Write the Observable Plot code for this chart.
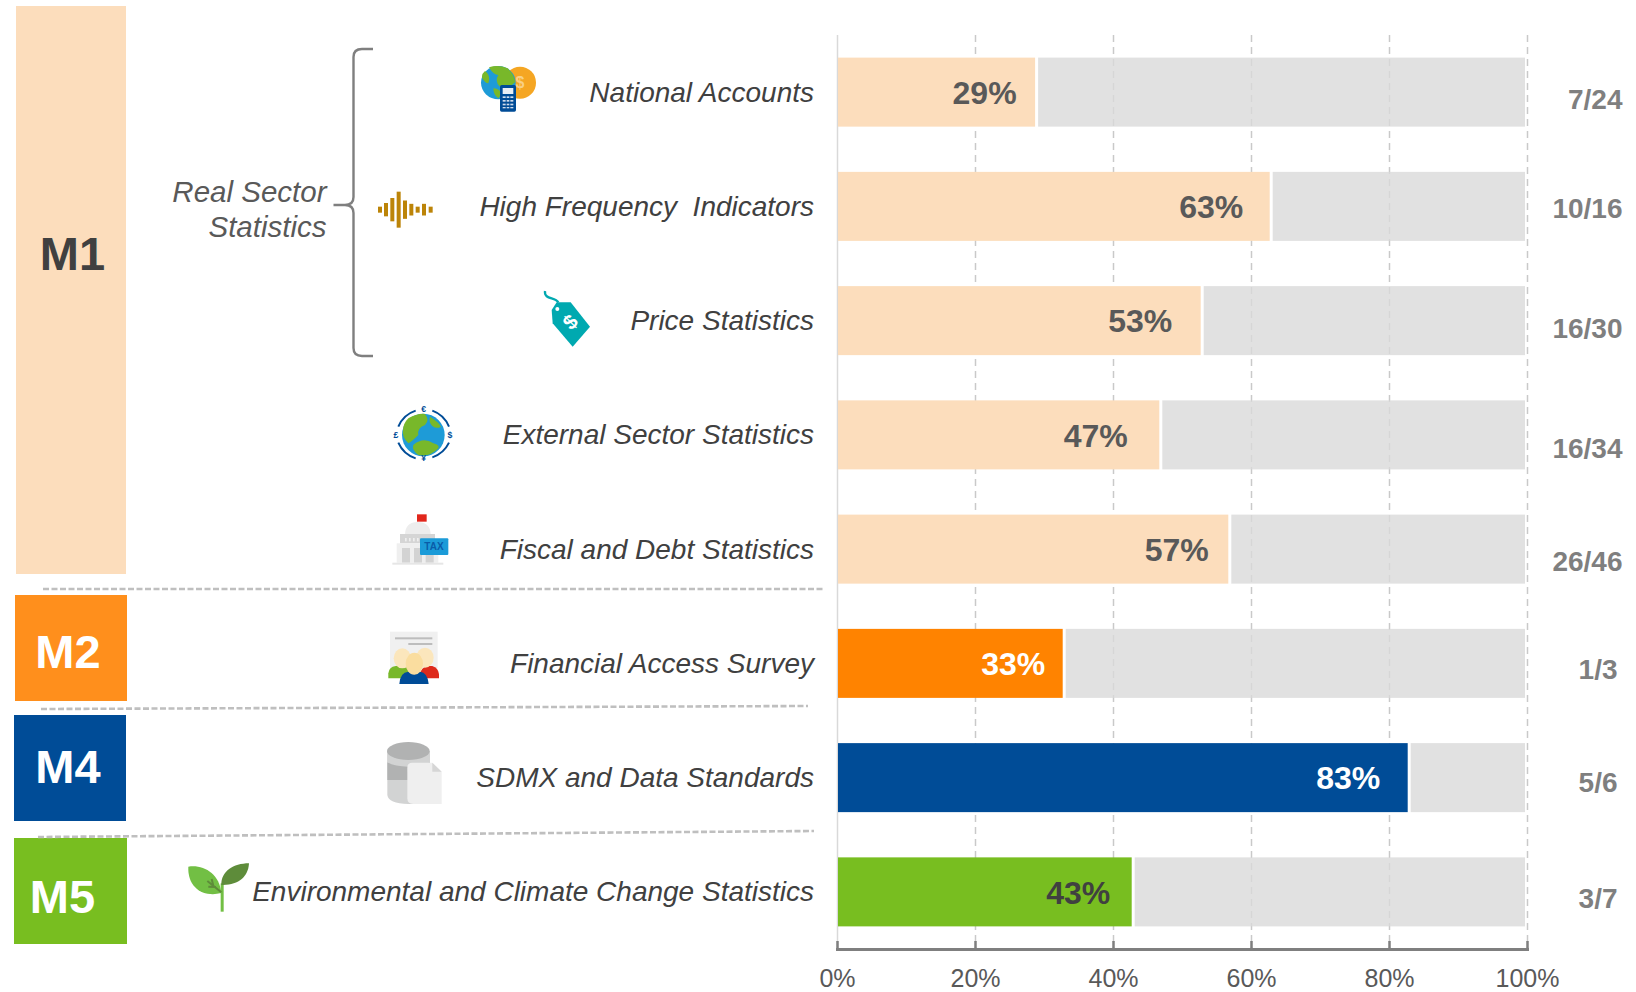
<!DOCTYPE html>
<html><head><meta charset="utf-8">
<style>html,body{margin:0;padding:0;background:#fff}svg{display:block}</style>
<script src="https://cdn.jsdelivr.net/npm/d3@7"></script>
<script src="https://cdn.jsdelivr.net/npm/@observablehq/plot@0.6"></script>
</head><body><div id="chart"></div>
<script>
const categories = ["National Accounts","High Frequency\u00a0\u00a0Indicators","Price Statistics","External Sector Statistics","Fiscal and Debt Statistics","Financial Access Survey","SDMX and Data Standards","Environmental and Climate Change Statistics"];
const shares = [29,63,53,47,57,33,83,43];
const fractions = ["7/24","10/16","16/30","16/34","26/46","1/3","5/6","3/7"];
const barColors = ["#FCDDBC","#FCDDBC","#FCDDBC","#FCDDBC","#FCDDBC","#FF8300","#004C97","#78BE20"];
const valueColors = ["#595959","#595959","#595959","#595959","#595959","#ffffff","#ffffff","#404040"];
const xTicks = [0,20,40,60,80,100];

const FONT = "'Liberation Sans', Arial, sans-serif";
const rows = categories.map((c,i)=>({c,v:shares[i],f:fractions[i],col:barColors[i],tc:valueColors[i]}));
// hand-placed label offsets of the original slide (layout only)
const valueGap = [21,29,31,34,22,20,30,24];
const fracDy = [7,2,8,14,12,6,5,7];
const fracDx = [95,95,95,95,95,90,90,90];

const plot = Plot.plot({
  width:1636, height:992, marginLeft:837, marginRight:109, marginTop:35, marginBottom:43,
  style:{fontFamily:FONT, background:"#fff"},
  x:{domain:[0,100], axis:null},
  y:{domain:categories, axis:null, paddingInner:0.396, paddingOuter:0.198, round:false},
  marks:[
    Plot.ruleX([0],{stroke:"#d9d9d9",strokeWidth:1.5}),
    Plot.ruleX(xTicks.slice(1),{stroke:"#c9c9c9",strokeWidth:1.5,strokeDasharray:"7,5"}),
    Plot.barX(rows,{x1:"v",x2:()=>100,y:"c",fill:"#d9d9d9",fillOpacity:0.8,insetLeft:1,insetRight:2}),
    Plot.barX(rows,{x1:()=>0,x2:"v",y:"c",fill:"col",insetLeft:1,insetRight:2}),
    Plot.ruleX(xTicks,{stroke:"#7f7f7f",strokeWidth:2.5,insetTop:906}),
    Plot.frame({anchor:"bottom",stroke:"#7f7f7f",strokeWidth:3}),
    Plot.axisX({ticks:xTicks,tickSize:0,tickPadding:19.5,tickFormat:d=>d+"%",fontSize:25,fill:"#595959",label:null}),
    Plot.axisY({tickSize:0,tickPadding:23.5,fontSize:28,fontStyle:"italic",fill:"#404040",label:null}),
    ...rows.map((r,i)=>Plot.text([r],{x:"v",y:"c",text:d=>d.v+"%",fill:r.tc,fontSize:32,fontWeight:"bold",textAnchor:"end",dx:-valueGap[i],dy:1})),
    ...rows.map((r,i)=>Plot.text([r],{x:()=>100,y:"c",text:"f",fill:"#7f7f7f",fontSize:28,fontWeight:"bold",textAnchor:"end",dx:fracDx[i],dy:fracDy[i]}))
  ]
});
document.getElementById("chart").append(plot);

// slide furniture left of the chart
const svg = d3.select(plot);
const deco = svg.append("g");
const blocks = [
  ["M1",16,6,126,574,"#FCDDBC","#404040",72.5,253],
  ["M2",15,595,127,701,"#FF8F1C","#ffffff",68,651],
  ["M4",14,715,126,821,"#004C97","#ffffff",68,766],
  ["M5",14,838,127,944,"#78BE20","#ffffff",62.5,896]
];
blocks.forEach(b=>{
  deco.append("rect").attr("x",b[1]).attr("y",b[2]).attr("width",b[3]-b[1]).attr("height",b[4]-b[2]).attr("fill",b[5]);
  deco.append("text").text(b[0]).attr("x",b[7]).attr("y",b[8]).attr("dy","0.36em").attr("text-anchor","middle")
    .attr("font-size",47).attr("font-weight","bold").attr("fill",b[6]).attr("font-family",FONT);
});
[[43,589,825,589],[41,709,808,706],[38,837,814,831]].forEach(l=>{
  deco.append("line").attr("x1",l[0]).attr("y1",l[1]).attr("x2",l[2]).attr("y2",l[3])
    .attr("stroke","#bfbfbf").attr("stroke-width",2.6).attr("stroke-dasharray","6,2.5");
});
deco.append("path").attr("d","M373,49 H362 Q353.5,49 353.5,57 V197 Q353.5,205 345,205 H333.5 M345,205 Q353.5,205 353.5,213 V348 Q353.5,356 362,356 H373")
  .attr("fill","none").attr("stroke","#7f7f7f").attr("stroke-width",2.4);
[["Real Sector",191],["Statistics",226]].forEach(t=>{
  deco.append("text").text(t[0]).attr("x",326.5).attr("y",t[1]).attr("dy","0.36em").attr("text-anchor","end")
    .attr("font-size",29.5).attr("font-style","italic").attr("fill","#595959").attr("font-family",FONT);
});

function icon(x0,y0,html){ deco.append("g").attr("transform",`translate(${x0},${y0}) scale(${1/3})`).html(html); }
// national accounts
icon(465,55,`<circle cx="165" cy="83" r="48" fill="#F5A623"/>
<text x="165" y="100" text-anchor="middle" font-size="48" font-weight="bold" fill="#F9CF85" font-family="${FONT}">$</text>
<ellipse cx="100" cy="83" rx="52" ry="50" fill="#1E9BD7"/>
<path d="M72,37 Q100,28 128,40 Q150,60 150,82 Q135,100 105,95 Q88,80 100,60 Q85,60 72,37Z M52,70 Q48,58 60,48 Q78,60 70,85 Q60,85 52,70Z M85,100 Q100,100 112,115 L100,130 Q85,120 85,100Z" fill="#78B82A"/>
<rect x="105" y="90" width="48" height="80" rx="5" fill="#004C97"/>
<rect x="113" y="99" width="32" height="18" fill="#e8eef5"/>
<g fill="#cfdcec"><rect x="113" y="124" width="32" height="5"/><rect x="113" y="135" width="32" height="5"/><rect x="113" y="146" width="32" height="5"/><rect x="113" y="156" width="32" height="4"/></g>
<g fill="#004C97"><rect x="122" y="122" width="3" height="40"/><rect x="133" y="122" width="3" height="40"/></g>`);
// high frequency wave
const wx=[60,78,97,116,135,154,173,192,212], wh=[18,40,70,108,55,35,18,35,18];
icon(360,185,wx.map((x,i)=>`<rect x="${x-6}" y="${74-wh[i]/2}" width="12" height="${wh[i]}" fill="#BC8408"/>`).join(""));
// price tag
icon(360,185,`<path d="M555,318 C552,345 585,335 595,352" fill="none" stroke="#00A9B0" stroke-width="7"/>
<path d="M590,352 L632,352 L690,425 L638,485 L578,415 L575,375Z" fill="#00A9B0"/>
<circle cx="592" cy="372" r="6" fill="#fff"/>
<text x="632" y="432" text-anchor="middle" font-size="62" font-weight="bold" fill="#fff" transform="rotate(-45 632 412)" font-family="${FONT}">$</text>`);
// external sector globe
icon(375,400,`<circle cx="145" cy="105" r="64" fill="#1E9BD7"/>
<path d="M100,55 Q130,38 150,42 Q165,60 150,75 Q125,85 130,105 Q110,125 100,130 Q80,110 84,90 Q85,70 100,55Z M115,135 Q145,110 175,130 Q195,135 190,145 Q165,172 130,165 Q110,150 115,135Z M165,50 Q190,65 198,80 Q185,88 172,78 Q160,65 165,50Z" fill="#78B82A"/>
<g fill="none" stroke="#004C97" stroke-width="6">
<path d="M70,80 A85,85 0 0 1 122,32"/><path d="M172,32 A85,85 0 0 1 222,80"/><path d="M222,128 A85,85 0 0 1 172,172"/><path d="M122,175 A85,85 0 0 1 70,128"/></g>
<g fill="#004C97" font-size="26" font-weight="bold" text-anchor="middle" font-family="${FONT}"><text x="146" y="36">€</text><text x="225" y="113">$</text><text x="146" y="183">¥</text><text x="63" y="113">£</text></g>`);
// fiscal capitol
icon(375,400,`<rect x="126" y="343" width="29" height="22" fill="#E1261C"/>
<path d="M90,402 Q92,366 128,366 Q165,366 167,402Z" fill="#ededed"/>
<rect x="75" y="402" width="105" height="28" fill="#d5d5d5"/>
<g fill="#efefef"><rect x="90" y="414" width="5" height="10"/><rect x="102" y="414" width="5" height="10"/><rect x="114" y="414" width="5" height="10"/><rect x="126" y="414" width="5" height="10"/></g>
<rect x="65" y="430" width="125" height="58" fill="#efefef"/>
<g fill="#d3d3d3"><rect x="81" y="444" width="24" height="44"/><rect x="117" y="444" width="24" height="44"/><rect x="152" y="444" width="24" height="44"/></g>
<rect x="52" y="488" width="153" height="6" fill="#e6e6e6"/>
<rect x="135" y="415" width="85" height="50" rx="3" fill="#1B9BD8"/>
<text x="177" y="449" text-anchor="middle" font-size="30" font-weight="bold" fill="#0A5CA8" font-family="${FONT}">TAX</text>`);
// financial access
icon(375,625,`<rect x="45" y="20" width="143" height="110" fill="#f0f0f0"/>
<rect x="60" y="37" width="112" height="6" fill="#bdbdbd"/><rect x="100" y="54" width="72" height="6" fill="#bdbdbd"/>
<path d="M40,160 V145 Q42,125 62,123 H85 Q105,125 108,160Z" fill="#78B82A"/>
<path d="M130,160 Q135,125 160,123 H172 Q190,128 192,148 V160Z" fill="#DE2A1C"/>
<ellipse cx="82" cy="100" rx="26" ry="30" fill="#FBE6BC"/><ellipse cx="150" cy="98" rx="26" ry="30" fill="#FBE6BC"/>
<path d="M73,177 Q75,142 100,140 H135 Q158,142 161,177Z" fill="#004C97"/>
<ellipse cx="118" cy="116" rx="26" ry="33" fill="#FADD9F"/>`);
// sdmx database
icon(375,625,`<path d="M37,378 V510 Q40,536 100,537 L150,537 V378Z" fill="#d2d3d3"/>
<rect x="37" y="412" width="128" height="53" fill="#b1b2b2"/>
<path d="M37,378 V412 Q60,425 100,425 Q140,425 165,412 V378Z" fill="#d2d3d3"/>
<ellipse cx="100" cy="378" rx="64" ry="27" fill="#b1b2b2"/>
<path d="M112,413 H172 L200,440 V537 H115 Q97,537 97,520 V428 Q97,413 112,413Z" fill="#efefef"/>
<path d="M172,413 L200,440 H172Z" fill="#d6d6d6"/>`);
// environment sprout
icon(180,855,`<rect x="122" y="85" width="9" height="85" fill="#72BF44"/>
<path d="M25,35 C70,28 118,55 124,114 C70,128 22,98 25,35Z" fill="#72BF44"/>
<path d="M207,25 C205,65 175,92 124,90 C122,50 160,25 207,25Z" fill="#5E8C3A"/>
<path d="M82,78 L124,112 M95,72 L100,92 M85,95 L108,96" stroke="#5E8C3A" stroke-width="6" fill="none"/>`);
</script></body></html>
